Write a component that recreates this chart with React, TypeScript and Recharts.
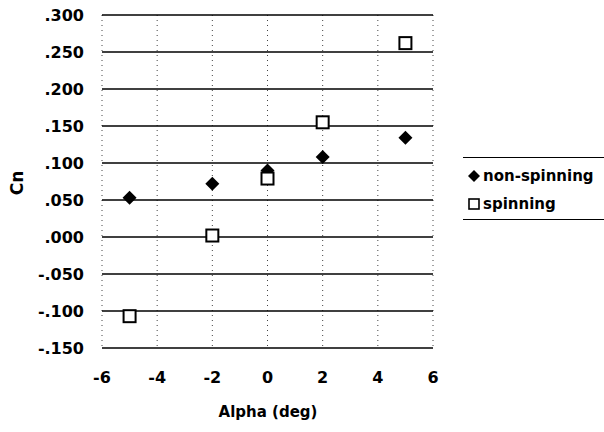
import { ScatterChart, Scatter, XAxis, YAxis, CartesianGrid } from 'recharts';

// values
const alpha = [-5, -2, 0, 2, 5];
const nonSpinning = [0.053, 0.072, 0.09, 0.108, 0.134];
const spinning = [-0.107, 0.002, 0.079, 0.155, 0.262];

const xTicks = [-6, -4, -2, 0, 2, 4, 6];
const yTicks = [-0.15, -0.1, -0.05, 0, 0.05, 0.1, 0.15, 0.2, 0.25, 0.3];

const nonData = alpha.map((a, i) => ({ alpha: a, cn: nonSpinning[i] }));
const spinData = alpha.map((a, i) => ({ alpha: a, cn: spinning[i] }));

const FONT = '"DejaVu Sans", sans-serif';

const fmtY = (v: number) => v.toFixed(3).replace('0.', '.');

const Diamond = (p: any) => {
  const { cx, cy } = p;
  const r = 7;
  return <polygon points={`${cx},${cy - r} ${cx + r},${cy} ${cx},${cy + r} ${cx - r},${cy}`} fill="#000" />;
};

const Square = (p: any) => {
  const { cx, cy } = p;
  return <rect x={cx - 6} y={cy - 6} width={12} height={12} fill="#fff" stroke="#000" strokeWidth={2} />;
};

function LegendBox() {
  return (
    <div style={{
      position: 'absolute', left: 463, top: 157, width: 141, height: 61,
      borderTop: '1px solid #000', borderBottom: '1px solid #000',
      fontFamily: FONT, fontWeight: 'bold', fontSize: 15, color: '#000',
    }}>
      <div style={{ position: 'absolute', left: 5, top: 9, display: 'flex', alignItems: 'center' }}>
        <svg width={12} height={12} style={{ marginRight: 3 }}>
          <polygon points="6,0 12,6 6,12 0,6" fill="#000" />
        </svg>
        non-spinning
      </div>
      <div style={{ position: 'absolute', left: 5, top: 37, display: 'flex', alignItems: 'center' }}>
        <svg width={12} height={12} style={{ marginRight: 3 }}>
          <rect x={1} y={1} width={10} height={10} fill="#fff" stroke="#000" strokeWidth={1.6} />
        </svg>
        spinning
      </div>
    </div>
  );
}

export default function App() {
  return (
    <div style={{ position: 'absolute', left: 0, top: 0, width: 604, height: 432, background: '#fff' }}>
      <ScatterChart width={604} height={432} margin={{ top: 15, right: 171, bottom: 24, left: 0 }}>
        <CartesianGrid horizontal={false} vertical stroke="#444" strokeDasharray="1 4" />
        <CartesianGrid horizontal vertical={false} stroke="#000" strokeWidth={1.4} />
        <XAxis
          type="number" dataKey="alpha" domain={[-6, 6]} ticks={xTicks} height={60}
          axisLine={false} tickLine={false} tickMargin={18}
          tick={{ fill: '#000', fontFamily: FONT, fontWeight: 'bold', fontSize: 16 }}
        />
        <YAxis
          type="number" dataKey="cn" domain={[-0.15, 0.3]} ticks={yTicks} width={102}
          axisLine={false} tickLine={false} tickMargin={12} tickFormatter={fmtY}
          tick={{ fill: '#000', fontFamily: FONT, fontWeight: 'bold', fontSize: 16 }}
        />
        <Scatter name="non-spinning" data={nonData} shape={Diamond} isAnimationActive={false} />
        <Scatter name="spinning" data={spinData} shape={Square} isAnimationActive={false} />
        <text x={17} y={183} transform="rotate(-90 17 183)" textAnchor="middle" dominantBaseline="central"
          fontFamily={FONT} fontWeight="bold" fontSize={17} fill="#000">Cn</text>
        <text x={268} y={412} textAnchor="middle" dominantBaseline="central"
          fontFamily={FONT} fontWeight="bold" fontSize={15} fill="#000">Alpha (deg)</text>
      </ScatterChart>
      <LegendBox />
    </div>
  );
}
